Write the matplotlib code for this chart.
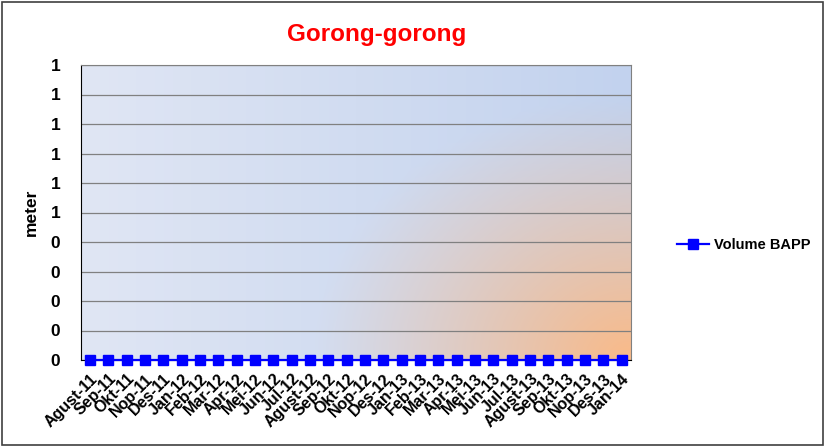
import numpy as np
import matplotlib.pyplot as plt
from matplotlib.patches import Rectangle

# data
bulan = ['Agust-11', 'Sep-11', 'Okt-11', 'Nop-11', 'Des-11', 'Jan-12', 'Feb-12', 'Mar-12',
         'Apr-12', 'Mei-12', 'Jun-12', 'Jul-12', 'Agust-12', 'Sep-12', 'Okt-12', 'Nop-12',
         'Des-12', 'Jan-13', 'Feb-13', 'Mar-13', 'Apr-13', 'Mei-13', 'Jun-13', 'Jul-13',
         'Agust-13', 'Sep-13', 'Okt-13', 'Nop-13', 'Des-13', 'Jan-14']
volume_bapp = [0] * 30
y_ticks = [0, 0.1, 0.2, 0.3, 0.4, 0.5, 0.6, 0.7, 0.8, 0.9, 1.0]
y_labels = ['0', '0', '0', '0', '0', '1', '1', '1', '1', '1', '1']

plt.rcParams['font.family'] = ['Liberation Sans', 'DejaVu Sans']

fig = plt.figure(figsize=(8.25, 4.47), dpi=100)
fig.patches.append(Rectangle((0.002, 0.004), 0.996, 0.992, transform=fig.transFigure,
                             fill=False, edgecolor='#404040', linewidth=1.2))

ax = fig.add_axes([81 / 825, 1 - 360 / 447, 550 / 825, 295 / 447])

# gradient background: blue-ish, orange glow from the bottom-right corner
h, w = 200, 400
yy, xx = np.mgrid[0:h, 0:w]
xn = xx / (w - 1)
yn = 1 - yy / (h - 1)
blue_l = np.array([224, 230, 244]) / 255
blue_r = np.array([194, 210, 238]) / 255
orange = np.array([250, 186, 136]) / 255
t = xn[..., None]
base = blue_l * (1 - t) + blue_r * t
d = np.sqrt(((1 - xn) / 0.58) ** 2 + (yn / 0.9) ** 2)
a = np.clip(1 - d, 0, 1) ** 1.1
img = base * (1 - a[..., None]) + orange * a[..., None]
ax.imshow(img, extent=[0, 1, 0, 1], transform=ax.transAxes, aspect='auto', zorder=0)

x = np.arange(len(bulan))
ax.plot(x, volume_bapp, color='#0000ff', linewidth=1.6, marker='s', markersize=7.5,
        label='Volume BAPP', clip_on=False, zorder=3)

ax.set_xlim(-0.5, len(bulan) - 0.5)
ax.set_ylim(0, 1)
ax.set_yticks(y_ticks)
ax.set_yticklabels(y_labels, fontsize=12.5, fontweight='bold')
ax.set_xticks(x)
ax.set_xticklabels(bulan, rotation=45, ha='right', rotation_mode='anchor',
                   fontsize=11.5, fontweight='bold')
ax.tick_params(axis='y', length=0, pad=15)
ax.tick_params(axis='x', length=0, pad=8)
ax.grid(axis='y', color='#808080', linewidth=0.9)
for gl in ax.get_ygridlines():
    gl.set_zorder(1)

ax.spines['left'].set_color('black')
ax.spines['bottom'].set_color('black')
ax.spines['top'].set_color('#808080')
ax.spines['right'].set_color('#808080')

ax.set_ylabel('meter', fontsize=12.5, fontweight='bold', labelpad=8)
fig.text(377 / 825, 1 - 35 / 447, 'Gorong-gorong', color='red', fontsize=17.5,
         fontweight='bold', ha='center', va='center')

leg = ax.legend(loc='center left', bbox_to_anchor=(1.06, 0.39), frameon=False,
                prop={'weight': 'bold', 'size': 10.5}, handlelength=2.2, handletextpad=0.3)

fig.savefig('out.png', dpi=100)
